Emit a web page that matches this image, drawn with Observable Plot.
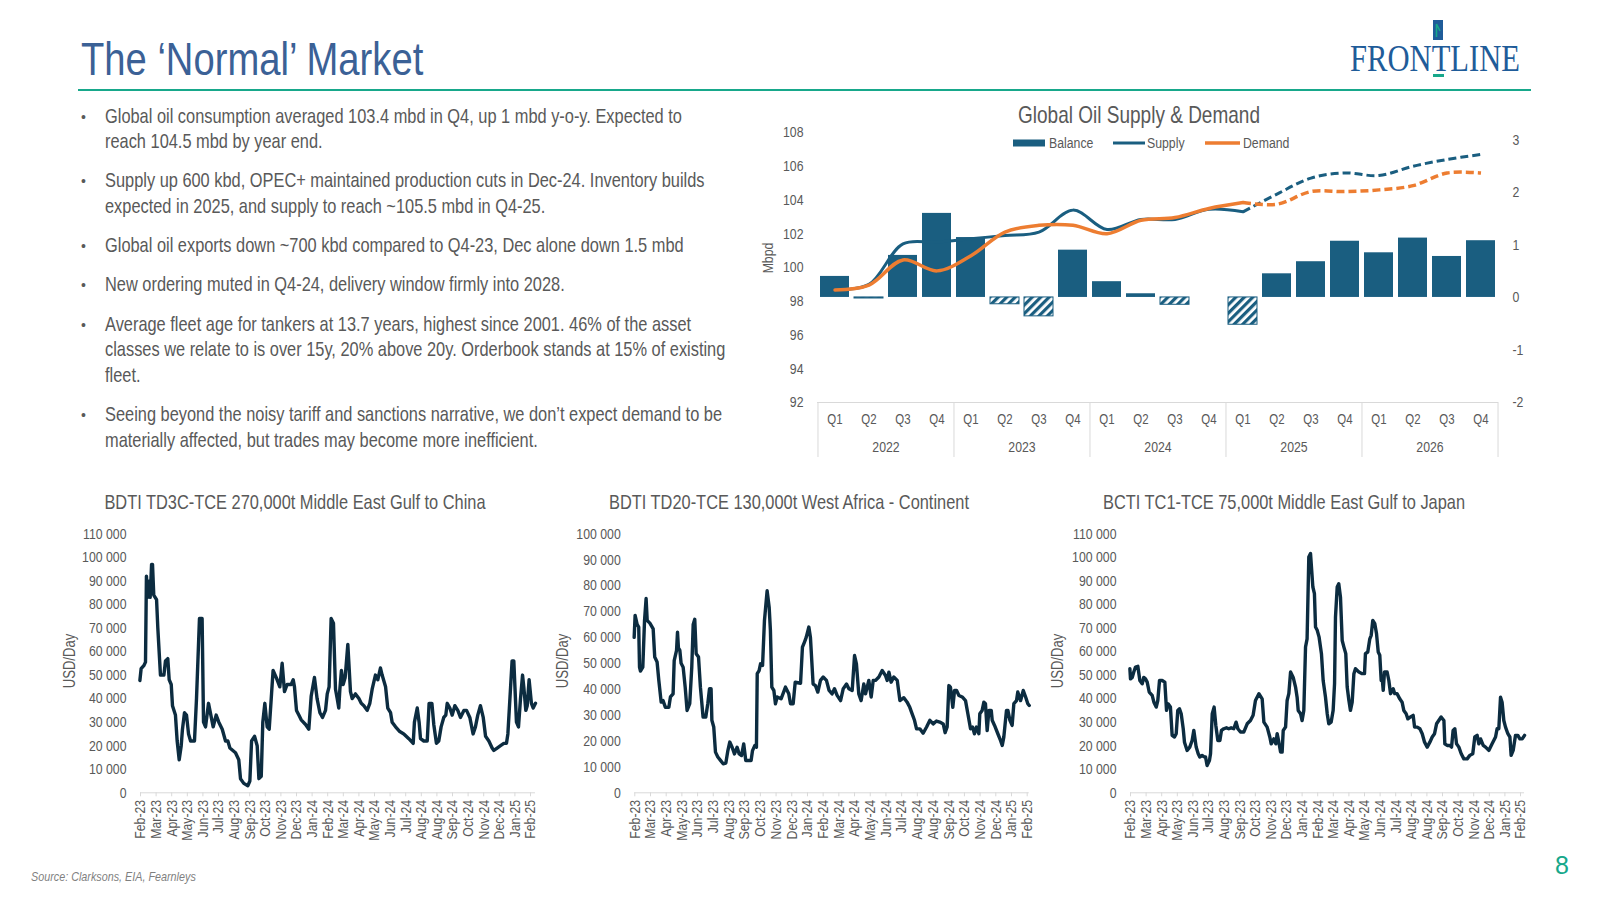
<!DOCTYPE html>
<html>
<head>
<meta charset="utf-8">
<script src="https://cdn.jsdelivr.net/npm/d3@7"></script>
<script src="https://cdn.jsdelivr.net/npm/@observablehq/plot@0.6"></script>
<style>
html,body{margin:0;padding:0;background:#fff;}
#page{position:relative;width:1600px;height:900px;overflow:hidden;background:#fff;}
</style>
</head>
<body>
<div id="page"></div>
<script>
// ---------------- DATA ----------------
const quarters = ["Q1","Q2","Q3","Q4"];
const years = ["2022","2023","2024","2025","2026"];
const forecastFrom = "2025 Q1";
// Balance (right axis, mbd)
const balance = [0.40,-0.02,0.80,1.60, 1.14,-0.13,-0.36,0.90, 0.30,0.07,-0.14,0.00, -0.52,0.45,0.68,1.07, 0.85,1.13,0.78,1.08];
// Supply & Demand (left axis, Mbpd)
const supply = [98.67,99.00,101.40,101.50, 101.70,101.90,102.10,103.40, 102.25,102.85,102.85,103.45, 103.30,104.35,105.30,105.60, 105.45,106.00,106.40,106.70];
const demand = [98.67,98.96,100.45,99.80, 100.70,102.10,102.50,102.50, 102.00,102.80,102.96,103.50, 103.85,103.75,104.50,104.50, 104.60,104.85,105.60,105.60];

// TCE earnings: [position in axis-label intervals from Feb-23, USD/day thousands]
const dateTickLabels = ["Feb-23","Mar-23","Apr-23","May-23","Jun-23","Jul-23","Aug-23","Sep-23","Oct-23","Nov-23","Dec-23","Jan-24","Feb-24","Mar-24","Apr-24","May-24","Jun-24","Jul-24","Aug-24","Aug-24","Sep-24","Oct-24","Nov-24","Dec-24","Jan-25","Feb-25"];
const td3c = [[-0.04,47.7],[0.04,52.7],[0.21,54],[0.32,55.5],[0.38,92],[0.47,83],[0.58,90],[0.62,83],[0.71,97],[0.77,97],[0.85,84],[1.03,82],[1.11,70],[1.28,50],[1.50,50],[1.60,56],[1.75,57],[1.84,48],[1.97,46],[2.05,37],[2.24,33],[2.35,22],[2.48,14],[2.61,20],[2.69,27],[2.82,34],[2.95,33],[3.08,25],[3.21,22],[3.46,22],[3.59,40],[3.78,74],[3.95,74],[4.04,30],[4.17,28],[4.36,38],[4.66,28],[4.85,33],[5.02,30],[5.24,27],[5.45,22],[5.60,22],[5.73,19],[6.09,17],[6.30,14],[6.41,6],[6.62,4],[6.88,3],[7.01,5],[7.12,22],[7.31,24],[7.48,20],[7.59,6],[7.74,7],[7.84,30],[7.97,38],[8.12,28],[8.25,27],[8.38,40],[8.50,52],[8.76,48],[8.93,45],[9.08,55],[9.23,43],[9.40,46],[9.66,46],[9.79,48],[9.87,45],[10.00,35],[10.15,33],[10.30,31],[10.58,29],[10.79,27],[10.94,41],[11.15,49],[11.32,40],[11.50,34],[11.67,32],[11.86,35],[11.97,42],[12.09,45],[12.22,74],[12.37,72],[12.50,44],[12.61,40],[12.71,36],[12.78,44],[12.88,52],[12.99,46],[13.12,49],[13.29,63],[13.46,43],[13.57,40],[13.78,42],[14.00,40],[14.15,38],[14.32,37],[14.53,35],[14.70,38],[14.85,44],[15.06,50],[15.21,48],[15.38,53],[15.49,50],[15.71,45],[15.85,36],[16.03,34],[16.13,30],[16.35,28],[16.62,26],[16.88,25],[17.20,23],[17.48,21],[17.56,30],[17.74,36],[17.86,30],[17.95,23],[18.16,22],[18.38,22],[18.50,38],[18.68,38],[18.80,29],[18.97,21],[19.12,22],[19.27,28],[19.44,32],[19.57,33],[19.66,38],[19.83,36],[19.98,33],[20.15,37],[20.34,35],[20.51,32],[20.73,35],[20.90,35],[21.11,32],[21.32,25],[21.47,28],[21.62,33],[21.79,37],[21.97,32],[22.12,24],[22.33,22],[22.54,19],[22.65,18],[22.86,19],[23.08,20],[23.29,21],[23.46,21],[23.55,25],[23.82,56],[23.93,56],[24.10,30],[24.23,28],[24.36,40],[24.49,50],[24.57,45],[24.70,35],[24.79,37],[24.91,48],[25.06,38],[25.17,36],[25.32,38]];
const td20 = [[-0.04,60],[0.02,68.5],[0.15,65],[0.25,64],[0.30,48.5],[0.36,47],[0.51,48.5],[0.62,66.5],[0.72,75],[0.79,66.5],[0.96,65.5],[1.17,63.3],[1.27,52.4],[1.42,50.5],[1.53,43.4],[1.68,35],[1.80,35.6],[1.95,33],[2.17,33],[2.27,37],[2.44,38.2],[2.51,51],[2.66,55],[2.72,62],[2.78,56],[2.87,55],[2.95,50],[3.08,48.5],[3.21,40.8],[3.33,31.8],[3.50,34.4],[3.63,48.5],[3.72,65],[3.82,67],[3.91,53.7],[4.06,52.4],[4.18,40.8],[4.35,29.2],[4.52,29.2],[4.65,34.4],[4.76,40.2],[4.86,40.2],[4.91,28],[5.03,25.4],[5.14,15.7],[5.29,13.8],[5.46,12.5],[5.63,11.2],[5.80,11.5],[5.93,16.3],[6.05,19.6],[6.20,17.6],[6.35,15],[6.52,17.6],[6.65,15],[6.80,14.4],[6.94,18.9],[7.07,12.5],[7.24,12.5],[7.41,12.5],[7.50,16.3],[7.65,18.3],[7.75,17.6],[7.80,46],[7.92,47.2],[8.01,49.8],[8.14,49.2],[8.26,66.5],[8.43,78],[8.56,71.7],[8.64,62.7],[8.73,40.8],[8.86,39.5],[8.96,34.4],[9.07,37],[9.32,36.3],[9.60,40.8],[9.81,38.2],[9.92,34.4],[10.09,34.4],[10.22,42.7],[10.56,42.3],[10.68,56.2],[10.81,58.2],[10.92,60],[11.09,64],[11.19,60],[11.36,42],[11.51,41.4],[11.66,38.9],[11.83,43.4],[12.00,44.7],[12.21,43.4],[12.38,39.5],[12.57,38.2],[12.72,40.2],[12.89,37.6],[13.11,35.6],[13.28,40.2],[13.49,42],[13.64,40.2],[13.85,39.5],[14.00,53],[14.12,49.8],[14.27,38.2],[14.42,35.6],[14.59,42],[14.70,38.2],[14.91,43.4],[15.06,37],[15.19,43.4],[15.34,43.4],[15.55,44.7],[15.76,47.2],[15.97,45.3],[16.08,43.4],[16.19,46.6],[16.33,42.7],[16.50,44.7],[16.72,43.4],[16.89,35.6],[17.14,36.7],[17.35,35],[17.52,33],[17.67,30.5],[17.82,28],[17.95,24.7],[18.16,24.7],[18.37,23],[18.59,25.4],[18.80,28],[19.01,26.6],[19.22,27.7],[19.43,27.3],[19.65,26.6],[19.77,23.2],[19.90,25.4],[20.01,41.4],[20.11,40.8],[20.26,33],[20.37,39.5],[20.50,39.5],[20.65,37.6],[20.86,37],[21.07,35.6],[21.22,30.5],[21.39,24.7],[21.52,25.4],[21.64,22.8],[21.77,25.4],[21.92,22.8],[21.98,30.5],[22.13,31.8],[22.24,35],[22.34,34.4],[22.45,24],[22.56,31.8],[22.71,31.8],[22.77,28],[22.92,26],[23.13,22.8],[23.30,20.2],[23.41,18.3],[23.51,21.5],[23.68,31.8],[23.77,31.8],[23.90,28],[24.04,26],[24.15,34.4],[24.32,35.6],[24.40,38.9],[24.58,35.6],[24.75,39.5],[24.90,37],[25.04,34.4],[25.13,33.7]];
const tc1 = [[-0.04,52.7],[0,48.4],[0.11,49],[0.21,51.3],[0.32,53.4],[0.47,53.7],[0.60,47.7],[0.75,46.3],[0.85,49],[0.96,48.4],[1.07,47],[1.20,42.8],[1.39,41.4],[1.50,38.5],[1.65,36.4],[1.75,39.2],[1.86,47.7],[2.03,47.7],[2.20,47],[2.31,35],[2.41,37.8],[2.56,36.4],[2.67,24.4],[2.82,23.7],[2.93,25.1],[3.03,35],[3.14,35.7],[3.25,33.6],[3.38,27.2],[3.46,21.5],[3.63,18],[3.80,19.4],[3.95,22.2],[4.06,26.5],[4.21,19.4],[4.34,16.6],[4.44,15.2],[4.59,15.9],[4.70,15.4],[4.81,15.2],[4.91,11.6],[5.06,13.7],[5.13,16.6],[5.24,33.6],[5.36,36.4],[5.47,28.6],[5.60,22.2],[5.73,22.2],[5.83,26.5],[5.98,27.2],[6.15,27.6],[6.30,27.2],[6.45,27.6],[6.62,27.2],[6.77,30],[6.88,27.2],[7.05,25.8],[7.26,25.8],[7.48,29.3],[7.69,30.7],[7.86,32.9],[8.01,39.2],[8.23,42.1],[8.44,39.9],[8.55,30],[8.76,27.9],[8.93,23.7],[9.02,20.8],[9.19,22.9],[9.32,20.8],[9.40,25.1],[9.51,21.5],[9.62,17.3],[9.72,17.3],[9.79,26.5],[9.94,27.9],[10.04,39.2],[10.15,42.1],[10.26,51.3],[10.43,49],[10.58,44.9],[10.68,40.6],[10.75,35],[10.90,33.6],[11.00,30.7],[11.11,35],[11.22,61.9],[11.32,65.4],[11.43,100.1],[11.54,101.6],[11.69,87.4],[11.79,84.6],[11.86,70.4],[11.97,69],[12.09,66.1],[12.24,59.1],[12.35,47.7],[12.50,40.6],[12.61,33.6],[12.71,29.3],[12.86,30],[12.99,35],[13.08,46.3],[13.14,74.6],[13.25,87.4],[13.35,88.8],[13.46,83.1],[13.57,64.7],[13.68,61.9],[13.80,59.1],[13.89,44.9],[14.00,39.2],[14.10,35],[14.21,38.5],[14.32,50.6],[14.42,52.7],[14.64,51.3],[14.85,50.6],[15.00,50.6],[15.06,59.1],[15.21,59.8],[15.34,65.4],[15.43,66.9],[15.53,73.2],[15.66,71.8],[15.77,67.6],[15.88,59.8],[15.98,58.4],[16.07,47.7],[16.13,49],[16.20,43.5],[16.28,51.3],[16.45,51.3],[16.56,47.7],[16.67,42.1],[16.84,44.2],[16.94,42.1],[17.09,42.1],[17.26,39.9],[17.41,38.5],[17.52,35],[17.67,33.6],[17.78,31.4],[17.95,32.2],[18.12,32.9],[18.21,27.9],[18.38,27.9],[18.55,27.2],[18.70,25.1],[18.85,21.5],[19.02,19.4],[19.19,21.5],[19.34,23.7],[19.49,25.1],[19.62,29.3],[19.76,30.7],[19.91,32.2],[20.09,30.7],[20.15,20.8],[20.30,20.1],[20.47,20.1],[20.58,19.4],[20.68,26.5],[20.79,27.2],[20.90,20.8],[21.05,19.4],[21.20,16.6],[21.37,14.4],[21.58,14.4],[21.75,15.9],[21.94,16.6],[22.07,23.7],[22.22,24.4],[22.33,20.8],[22.44,22.9],[22.61,20.1],[22.76,19.4],[22.97,18],[23.18,20.8],[23.40,23.7],[23.50,27.2],[23.61,27.2],[23.72,40.6],[23.82,38.5],[23.93,30.7],[24.04,27.9],[24.19,25.1],[24.32,23.7],[24.40,15.9],[24.53,18],[24.68,24.4],[24.83,24.4],[24.96,22.9],[25.11,22.9],[25.26,24.4]];

const bullets = [
  ["Global oil consumption averaged 103.4 mbd in Q4, up 1 mbd y-o-y. Expected to", "reach 104.5 mbd by year end."],
  ["Supply up 600 kbd, OPEC+ maintained production cuts in Dec-24. Inventory builds", "expected in 2025, and supply to reach ~105.5 mbd in Q4-25."],
  ["Global oil exports down ~700 kbd compared to Q4-23, Dec alone down 1.5 mbd"],
  ["New ordering muted in Q4-24, delivery window firmly into 2028."],
  ["Average fleet age for tankers at 13.7 years, highest since 2001. 46% of the asset", "classes we relate to is over 15y, 20% above 20y. Orderbook stands at 15% of existing", "fleet."],
  ["Seeing beyond the noisy tariff and sanctions narrative, we don\u2019t expect demand to be", "materially affected, but trades may become more inefficient."]
];

// ---------------- STYLE ----------------
const FONT = '"Liberation Sans",Arial,sans-serif';
const NARROW = 0.82; // horizontal squeeze to imitate a narrow sans face
const GREY = "#595959";
const BLUE = "#1a5e80";
const ORANGE = "#ed7d31";
const NAVY = "#0c2c40";
const GREEN = "#17a88b";
const AXIS = "#d9d9d9";
const page = document.getElementById("page");

// squeeze every text of a Plot SVG horizontally around its anchor
const isNum = v => v != null && /^-?\d*\.?\d+(e-?\d+)?$/.test(String(v).trim());
function narrowTexts(svg, s = NARROW) {
  d3.select(svg).selectAll("text").each(function () {
    const el = d3.select(this);
    const xa = el.attr("x"), ya = el.attr("y");
    let t = el.attr("transform") || "";
    const nx = isNum(xa), ny = isNum(ya);
    if (nx || ny) {
      t += ` translate(${nx ? +xa : 0},${ny ? +ya : 0})`;
      if (nx) el.attr("x", null);
      if (ny) el.attr("y", null);
    }
    el.attr("transform", (t + ` scale(${s},1)`).trim());
  });
  return svg;
}

// ---------------- TOP CHART ----------------
const rows = years.flatMap((y, yi) => quarters.map((q, qi) => {
  const i = yi * 4 + qi;
  return {key: `${y} ${q}`, year: y, q, balance: balance[i], supply: supply[i], demand: demand[i]};
}));
const fcIdx = rows.findIndex(d => d.key === forecastFrom);
const topBase = {width: 800, height: 370, marginLeft: 77, marginRight: 42, marginTop: 37, marginBottom: 63};
const topX = {type: "band", domain: rows.map(d => d.key), paddingInner: 0.15, paddingOuter: 0.075};
const topStyle = {position: "absolute", left: "740px", top: "95px", fontFamily: FONT, fontSize: "15px", color: GREY, background: "none", overflow: "visible"};
const half = (1498 - 817) / rows.length / 2;

const barsSvg = Plot.plot({
  ...topBase, style: topStyle,
  x: {...topX, axis: null},
  y: {domain: [-2, 3.14]},
  marks: [
    Plot.axisY({anchor: "right", ticks: [-2, -1, 0, 1, 2, 3], tickFormat: d => String(d), tickSize: 0, tickPadding: 14, label: null}),
    Plot.barY(rows.filter(d => d.balance >= 0), {x: "key", y1: 0, y2: "balance", fill: BLUE}),
    Plot.barY(rows.filter(d => d.balance < 0), {x: "key", y1: 0, y2: "balance", fill: "url(#hatch)", stroke: BLUE, strokeWidth: 1})
  ]
});
const defs = d3.select(barsSvg).insert("defs", ":first-child");
const pat = defs.append("pattern").attr("id", "hatch").attr("patternUnits", "userSpaceOnUse")
  .attr("width", 6).attr("height", 6).attr("patternTransform", "rotate(45)");
pat.append("rect").attr("width", 6).attr("height", 6).attr("fill", "#ffffff");
pat.append("rect").attr("width", 3.2).attr("height", 6).attr("fill", BLUE);
page.appendChild(narrowTexts(barsSvg));

const linesSvg = Plot.plot({
  ...topBase, style: topStyle,
  x: topX,
  y: {domain: [92, 108]},
  marks: [
    Plot.axisY({anchor: "left", ticks: d3.range(92, 109, 2), tickSize: 0, tickPadding: 14, label: null}),
    Plot.axisX({tickFormat: k => k.split(" ")[1], tickSize: 0, tickPadding: 12, fontSize: 14, label: null}),
    Plot.ruleY([92], {stroke: AXIS}),
    Plot.ruleX(rows.filter(d => d.q === "Q1"), {x: "key", dx: -half, insetTop: 270, insetBottom: -55, stroke: AXIS}),
    Plot.ruleX(rows.slice(-1), {x: "key", dx: half, insetTop: 270, insetBottom: -55, stroke: AXIS}),
    Plot.text(rows.filter(d => d.q === "Q2"), {x: "key", text: "year", dx: half, frameAnchor: "bottom", dy: 49, fill: GREY}),
    Plot.line(rows.slice(0, fcIdx + 1), {x: "key", y: "supply", stroke: BLUE, strokeWidth: 3, curve: "catmull-rom"}),
    Plot.line(rows.slice(fcIdx), {x: "key", y: "supply", stroke: BLUE, strokeWidth: 3, strokeDasharray: "8,4", strokeLinecap: "butt", curve: "catmull-rom"}),
    Plot.line(rows.slice(0, fcIdx + 1), {x: "key", y: "demand", stroke: ORANGE, strokeWidth: 3.5, curve: "catmull-rom"}),
    Plot.line(rows.slice(fcIdx), {x: "key", y: "demand", stroke: ORANGE, strokeWidth: 3.5, strokeDasharray: "8,4", strokeLinecap: "butt", curve: "catmull-rom"})
  ]
});
page.appendChild(narrowTexts(linesSvg));

// ---------------- BOTTOM CHARTS ----------------
function tceChart(series, yMax, left, width, plotLeft, plotRight) {
  const top = 515, height = 330;
  const svg = Plot.plot({
    width, height,
    marginLeft: plotLeft - left, marginRight: width - (plotRight - left),
    marginTop: 533.3 - top, marginBottom: top + height - 792.3,
    style: {position: "absolute", left: left + "px", top: top + "px", fontFamily: FONT, fontSize: "14px", color: GREY, background: "none", overflow: "visible"},
    x: {domain: [0, dateTickLabels.length - 1]},
    y: {domain: [0, yMax]},
    marks: [
      Plot.axisY({ticks: d3.range(0, yMax + 1, 10000), tickFormat: d => d3.format(",")(d).replace(/,/g, " "), tickSize: 0, tickPadding: 14, fontSize: 15, label: null}),
      Plot.axisX({ticks: d3.range(dateTickLabels.length), tickFormat: i => dateTickLabels[i], tickRotate: -90, tickSize: 4, tickPadding: 3, stroke: AXIS, fill: GREY, fontSize: 15, label: null}),
      Plot.ruleY([0], {x1: 0, x2: d3.max(series, d => d[0]), stroke: AXIS}),
      Plot.line(series, {x: d => d[0], y: d => d[1] * 1000, stroke: NAVY, strokeWidth: 3.4})
    ]
  });
  return narrowTexts(svg);
}
page.appendChild(tceChart(td3c, 110000, 30, 520, 140, 530));
page.appendChild(tceChart(td20, 100000, 525, 520, 634.3, 1026.7));
page.appendChild(tceChart(tc1, 110000, 1020, 540, 1130, 1520));

// ---------------- TEXT / DECORATION ----------------
const deco = d3.create("svg").attr("width", 1600).attr("height", 900)
  .style("position", "absolute").style("left", "0px").style("top", "0px")
  .style("pointer-events", "none").attr("font-family", FONT);

function txt(x, y, s, size, o = {}) {
  const t = deco.append("text")
    .attr("transform", `translate(${x},${y})${o.rotate ? ` rotate(${o.rotate})` : ""} scale(${o.sx ?? NARROW},1)`)
    .attr("font-size", size).attr("fill", o.fill ?? GREY).text(s);
  if (o.anchor) t.attr("text-anchor", o.anchor);
  if (o.italic) t.attr("font-style", "italic");
  return t;
}

txt(81, 74.5, "The \u2018Normal\u2019 Market", 46, {fill: "#3b6196", sx: 0.83});
deco.append("line").attr("x1", 78).attr("x2", 1531).attr("y1", 90).attr("y2", 90).attr("stroke", GREEN).attr("stroke-width", 2);

// logo
deco.append("text").attr("x", 1350).attr("y", 71).attr("font-family", '"Liberation Serif","DejaVu Serif",serif')
  .attr("font-size", 38).attr("textLength", 170).attr("lengthAdjust", "spacingAndGlyphs").attr("fill", "#1f5c99").text("FRONTLINE");
deco.append("rect").attr("x", 1433).attr("y", 20).attr("width", 10).attr("height", 20).attr("fill", "#1f5c99");
deco.append("path").attr("d", "M1436.5,37 L1436.5,24 L1440,31").attr("stroke", GREEN).attr("fill", "none").attr("stroke-width", 1.6);
deco.append("rect").attr("x", 1433).attr("y", 74).attr("width", 11).attr("height", 3).attr("fill", GREEN);

// bullets
let by = 122.5;
for (const lines of bullets) {
  txt(81, by - 1, "\u2022", 14, {sx: 1});
  for (const line of lines) {
    txt(105, by, line, 20);
    by += 25.5;
  }
  by += 13.8;
}

// top chart title, legend, axis title
txt(1139, 123, "Global Oil Supply & Demand", 23.2, {anchor: "middle"});
deco.append("rect").attr("x", 1013).attr("y", 139.5).attr("width", 32).attr("height", 7).attr("fill", BLUE);
txt(1049, 148, "Balance", 15);
deco.append("line").attr("x1", 1113).attr("x2", 1145).attr("y1", 143).attr("y2", 143).attr("stroke", BLUE).attr("stroke-width", 3);
txt(1147, 148, "Supply", 15);
deco.append("line").attr("x1", 1205).attr("x2", 1240).attr("y1", 143).attr("y2", 143).attr("stroke", ORANGE).attr("stroke-width", 3.5);
txt(1243, 148, "Demand", 15);
txt(773, 258, "Mbpd", 15, {rotate: -90, anchor: "middle"});

// bottom chart titles and axis titles
const bottomTitles = [
  ["BDTI TD3C-TCE 270,000t Middle East Gulf to China", 295, 69],
  ["BDTI TD20-TCE 130,000t West Africa - Continent", 789, 562.5],
  ["BCTI TC1-TCE 75,000t Middle East Gulf to Japan", 1284, 1057.5]
];
for (const [t, cx, ax] of bottomTitles) {
  txt(cx, 509, t, 20, {anchor: "middle"});
  txt(ax + 5.5, 661, "USD/Day", 16, {rotate: -90, anchor: "middle"});
}

// footer
txt(31, 881, "Source: Clarksons, EIA, Fearnleys", 13, {italic: true, fill: "#7f7f7f", sx: 0.83});
txt(1555, 874, "8", 25, {fill: GREEN, sx: 1});

page.appendChild(deco.node());
</script>
</body>
</html>
